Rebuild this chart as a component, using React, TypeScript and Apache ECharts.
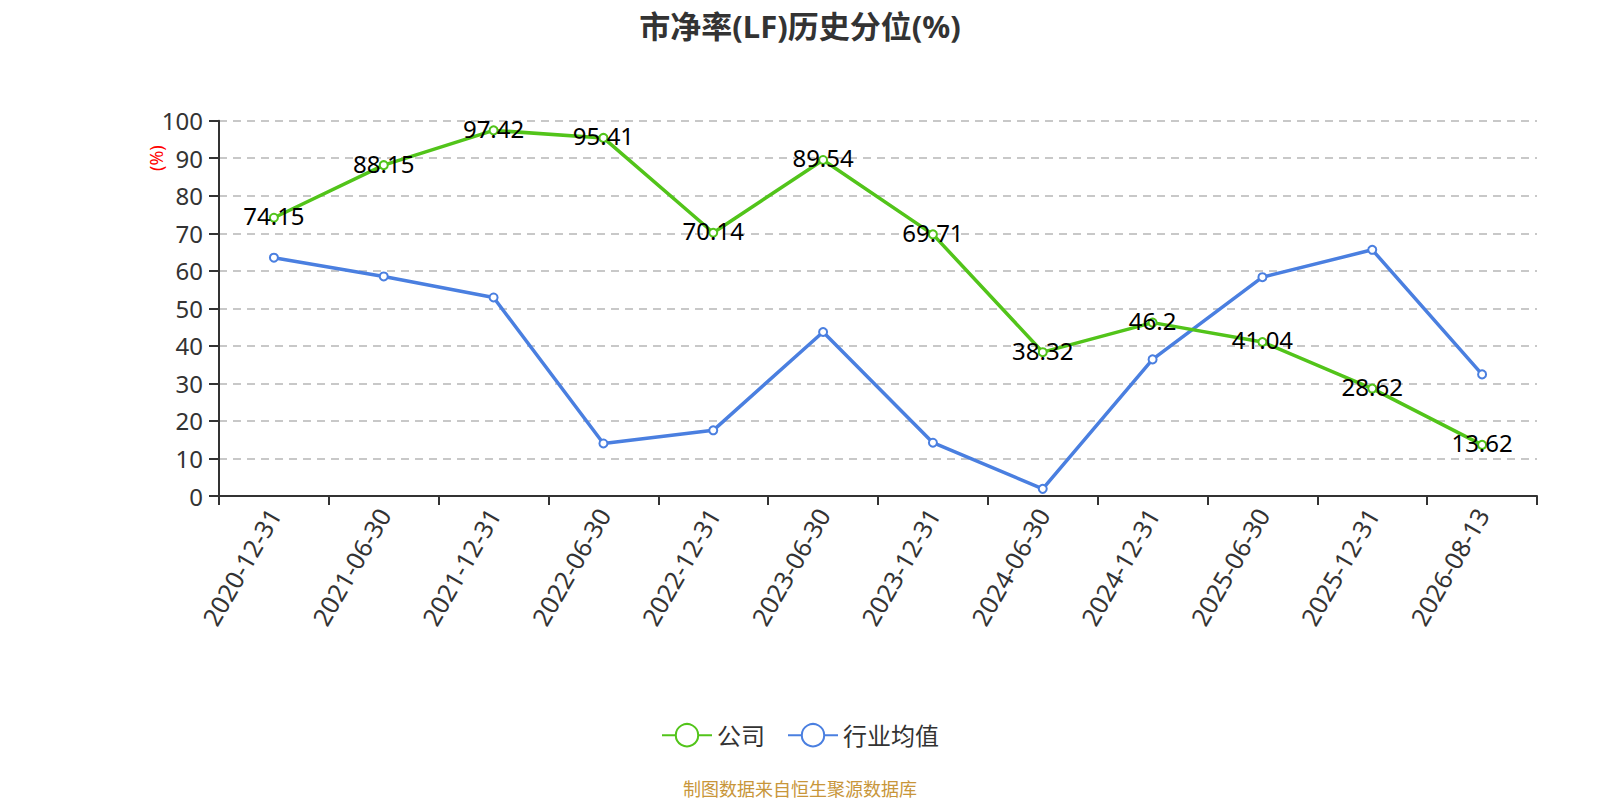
import React, { useEffect, useRef } from "react";
import * as echarts from "echarts";

const categories = [
  "2020-12-31", "2021-06-30", "2021-12-31", "2022-06-30", "2022-12-31", "2023-06-30",
  "2023-12-31", "2024-06-30", "2024-12-31", "2025-06-30", "2025-12-31", "2026-08-13",
];
const companyValues = [74.15, 88.15, 97.42, 95.41, 70.14, 89.54, 69.71, 38.32, 46.2, 41.04, 28.62, 13.62];
const industryValues = [63.5, 58.5, 52.9, 14.0, 17.5, 43.7, 14.2, 1.9, 36.4, 58.3, 65.6, 32.4];
const seriesNames = ["公司", "行业均值"];
const titleText = "市净率(LF)历史分位(%)";
const footerText = "制图数据来自恒生聚源数据库";
const yAxisUnit = "(%)";

const FONT = "'Noto Sans', 'Noto Sans CJK SC', sans-serif";
const GREEN = "#52c41a";
const BLUE = "#4a7fe0";

export default function App() {
  const ref = useRef<HTMLDivElement>(null);
  useEffect(() => {
    if (!ref.current) return;
    const chart = echarts.init(ref.current, null, { renderer: "svg" });
    const labelStyle = {
      show: true,
      position: "inside" as const,
      offset: [0, -2],
      color: "#000",
      fontSize: 24,
      fontFamily: FONT,
    };
    chart.setOption({
      animation: false,
      backgroundColor: "#fff",
      textStyle: { fontFamily: FONT },
      title: {
        text: titleText,
        left: "center",
        top: 5,
        textStyle: { fontSize: 31, fontWeight: "bold", color: "#333", fontFamily: FONT },
      },
      legend: {
        data: seriesNames,
        left: "center",
        top: 718,
        itemWidth: 50,
        itemHeight: 28,
        itemGap: 22,
        textStyle: { fontSize: 24, color: "#333", fontFamily: FONT },
      },
      grid: { left: 219, right: 63, top: 120.7, bottom: 304 },
      xAxis: {
        type: "category",
        data: categories,
        boundaryGap: true,
        axisLine: { lineStyle: { color: "#333", width: 2 } },
        axisTick: { show: true, length: 9, lineStyle: { color: "#333", width: 2 } },
        axisLabel: { rotate: 60, fontSize: 25, color: "#333", margin: 14, interval: 0, fontFamily: FONT },
        splitLine: { show: false },
      },
      yAxis: {
        type: "value",
        min: 0,
        max: 100,
        interval: 10,
        axisLine: { show: true, lineStyle: { color: "#333", width: 2 } },
        axisTick: { show: true, length: 10, lineStyle: { color: "#333", width: 2 } },
        axisLabel: { fontSize: 24, color: "#333", margin: 16, fontFamily: FONT },
        splitLine: { show: true, lineStyle: { color: "#c8c8c8", type: [8, 6], width: 2 } },
      },
      graphic: [
        {
          type: "text",
          x: 147,
          y: 171,
          rotation: Math.PI / 2,
          style: { text: yAxisUnit, fill: "#ff0000", fontSize: 18, fontFamily: FONT },
        },
        {
          type: "text",
          left: "center",
          top: 779,
          style: { text: footerText, fill: "#c8963a", fontSize: 18, fontFamily: "'Noto Sans CJK SC', sans-serif" },
        },
      ],
      series: [
        {
          name: seriesNames[0],
          type: "line",
          data: companyValues,
          symbol: "emptyCircle",
          symbolSize: 8,
          itemStyle: { color: GREEN, borderWidth: 2 },
          lineStyle: { color: GREEN, width: 3.5 },
          label: labelStyle,
          z: 3,
        },
        {
          name: seriesNames[1],
          type: "line",
          data: industryValues,
          symbol: "emptyCircle",
          symbolSize: 8,
          itemStyle: { color: BLUE, borderWidth: 2 },
          lineStyle: { color: BLUE, width: 3.5 },
          z: 2,
        },
      ],
    });
    return () => chart.dispose();
  }, []);
  return (
    <div
      ref={ref}
      style={{ position: "absolute", left: 0, top: 0, width: 1600, height: 800 }}
    />
  );
}
